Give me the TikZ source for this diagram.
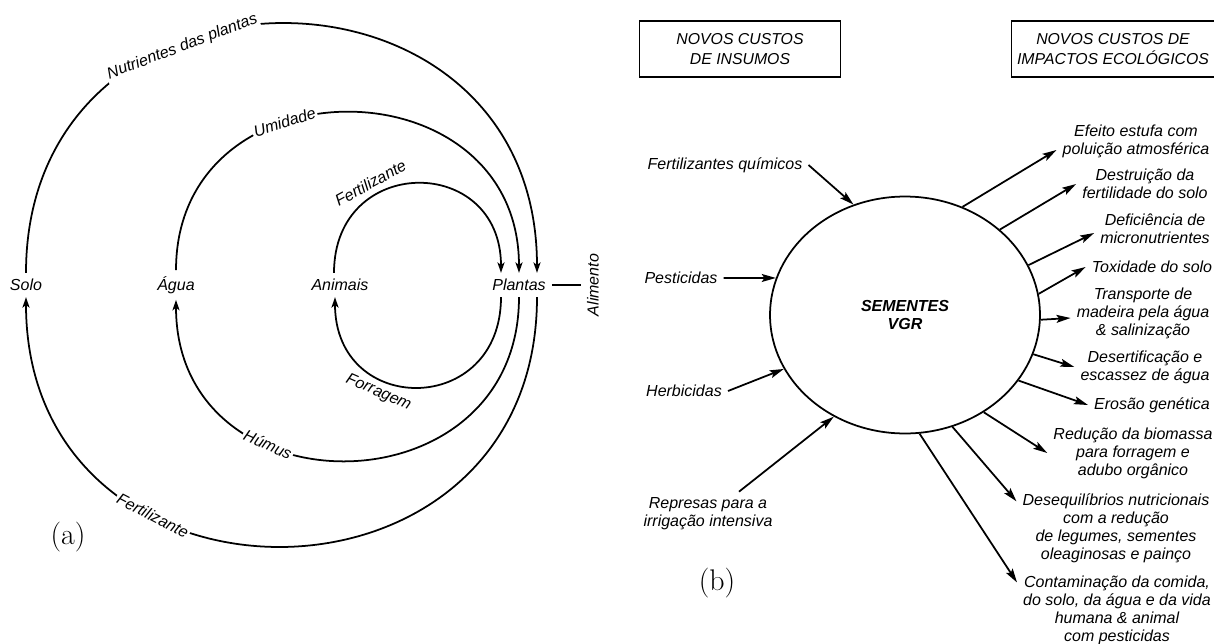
\documentclass[tikz,border=0pt]{standalone}
\usepackage{fontspec}
\newfontfamily\hv{Liberation Sans}
\usetikzlibrary{calc, positioning, shapes.geometric, arrows.meta}

\begin{document}
\begin{tikzpicture}[x=0.02cm, y=-0.02cm,
        lbl/.style={font=\hv\itshape\fontsize{9.1}{10.2}\selectfont, align=center},
        onarc/.style={lbl, sloped, fill=white, inner sep=1pt},
        box/.style={rectangle, draw=black, line width=0.8pt,
                    minimum width=4.02cm, minimum height=1.12cm,
                    align=center, font=\hv\itshape\fontsize{9}{11.3}\selectfont},
        ring/.style={line width=1pt, -{Stealth[length=6pt, width=4pt, inset=1.5pt]}},
        arrow/.style={line width=1pt, -{Stealth[length=8pt, width=4.5pt, inset=1.5pt]}},
        tag/.style={font=\fontsize{17}{20}\selectfont},
    ]
    \useasboundingbox (0,0) rectangle (1214,643);

    % (a) ciclo: Solo, Água, Animais -> Plantas
    \node[lbl] (solo) at (26, 285) {Solo};
    \node[lbl] (agua) at (176, 285) {Água};
    \node[lbl] (animais) at (340, 285) {Animais};
    \node[lbl] (plantas) at (519, 285) {Plantas};
    \node[lbl, rotate=90] (alim) at (593, 285) {Alimento};
    \draw[line width=1pt] (plantas.east) -- (alim.north);

    % arcos de cima
    \draw[ring] (solo.north) .. controls +(0,-332) and +(0,-332) .. ($(plantas.north)+(18,0)$)
        node[onarc, pos=0.365, yshift=-3pt] {Nutrientes das plantas};
    \draw[ring] (agua.north) .. controls +(0,-212) and +(0,-212) .. (plantas.north)
        node[onarc, pos=0.375] {Umidade};
    \draw[ring] ($(animais.north)+(-6,0)$) .. controls +(0,-119) and +(0,-119) .. ($(plantas.north)+(-18,0)$)
        node[lbl, sloped, above, pos=0.33] {Fertilizante};

    % arcos de baixo
    \draw[ring] ($(plantas.south)+(18,0)$) .. controls +(0,332) and +(0,332) .. (solo.south)
        node[onarc, pos=0.675] {Fertilizante};
    \draw[ring] (plantas.south) .. controls +(0,216) and +(0,216) .. (agua.south)
        node[onarc, pos=0.66] {Húmus};
    \draw[ring] ($(plantas.south)+(-18,0)$) .. controls +(0,120) and +(0,120) .. ($(animais.south)+(-5,0)$)
        node[lbl, sloped, below, pos=0.64] {Forragem};

    \node[tag] (lbla) at (68, 537) {(a)};

    % (b) caixas de título
    \node[box] (insumos) at (740, 49) {NOVOS CUSTOS\\DE INSUMOS};
    \node[box, minimum width=4cm] (impactos) at (1113, 49) {NOVOS CUSTOS DE\\IMPACTOS ECOLÓGICOS};

    % sementes (centro)
    \node[ellipse, draw, line width=1pt, minimum width=5.4cm, minimum height=4.74cm,
          align=center, font=\hv\bfseries\itshape\fontsize{9.1}{10.2}\selectfont]
        (vgr) at (905, 315) {SEMENTES\\VGR};

    % insumos (esquerda)
    \node[lbl] (fertq) at (725, 165) {Fertilizantes químicos};
    \node[lbl] (pest) at (681, 278) {Pesticidas};
    \node[lbl] (herb) at (684, 391) {Herbicidas};
    \node[lbl] (repr) at (708, 514) {Represas para a\\irrigação intensiva};

    \draw[arrow] (fertq.east) -- (vgr.115);
    \draw[arrow] (pest.east) -- (vgr.164);
    \draw[arrow] (herb.east) -- (vgr.204);
    \draw[arrow] ($(repr.north)+(31,0)$) -- (vgr.235);

    % impactos (direita)
    \node[lbl] (estufa) at (1136, 141) {Efeito estufa com\\poluição atmosférica};
    \node[lbl] (fertil) at (1145, 184) {Destruição da\\fertilidade do solo};
    \node[lbl] (micro) at (1155, 229) {Deficiência de\\micronutrientes};
    \node[lbl] (toxid) at (1152, 267) {Toxidade do solo};
    \node[lbl] (transp) at (1143, 313) {Transporte de\\madeira pela água\\\& salinização};
    \node[lbl] (desert) at (1145, 367) {Desertificação e\\escassez de água};
    \node[lbl] (erosao) at (1152, 405) {Erosão genética};
    \node[lbl] (biomassa) at (1133, 453) {Redução da biomassa\\para forragem e\\adubo orgânico};
    \node[lbl] (deseq) at (1116, 528) {Desequilíbrios nutricionais\\com a redução\\de legumes, sementes\\oleaginosas e painço};
    \node[lbl] (contam) at (1117, 610) {Contaminação da comida,\\do solo, da água e da vida\\humana \& animal\\com pesticidas};

    \draw[arrow] (vgr.62) -- ($(estufa.west)+(0,9)$);
    \draw[arrow] (vgr.42) -- (fertil.west);
    \draw[arrow] (vgr.22) -- ($(micro.west)+(0,4)$);
    \draw[arrow] (vgr.9) -- (toxid.west);
    \draw[arrow] (vgr.358) -- ($(transp.west)+(0,5)$);
    \draw[arrow] (vgr.343) -- (desert.west);
    \draw[arrow] (vgr.330) -- (erosao.west);
    \draw[arrow] (vgr.309) -- (biomassa.west);
    \draw[arrow] (vgr.293) -- ($(deseq.north west)+(0,14)$);
    \draw[arrow] (vgr.277) -- ($(contam.north west)+(0,13)$);

    \node[tag] (lblb) at (717, 583) {(b)};
\end{tikzpicture}
\end{document}
